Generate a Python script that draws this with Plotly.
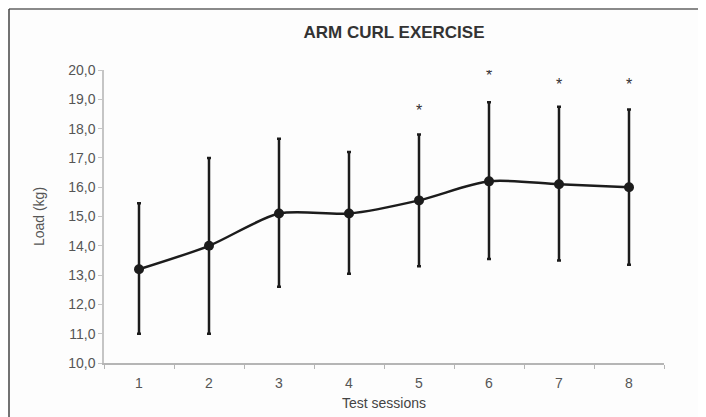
import plotly.graph_objects as go

sessions = ["1", "2", "3", "4", "5", "6", "7", "8"]
mean_load = [13.2, 14.0, 15.1, 15.1, 15.55, 16.2, 16.1, 16.0]
err_plus = [2.25, 3.0, 2.55, 2.1, 2.25, 2.7, 2.65, 2.65]
err_minus = [2.2, 3.0, 2.5, 2.05, 2.25, 2.65, 2.6, 2.65]
star_sessions = ["5", "6", "7", "8"]
star_y = [18.55, 19.75, 19.45, 19.45]
y_ticks = [10, 11, 12, 13, 14, 15, 16, 17, 18, 19, 20]
y_tick_labels = ["10,0", "11,0", "12,0", "13,0", "14,0", "15,0", "16,0", "17,0", "18,0", "19,0", "20,0"]

FONT = "Liberation Sans, Arial, sans-serif"
DARK = "#1c1c1c"

# plot area in figure pixels
L, R, T, B = 96, 656, 62, 355
W, H = R - L, B - T

fig = go.Figure()
fig.add_trace(go.Scatter(
    x=sessions, y=mean_load, mode="lines+markers",
    line=dict(color=DARK, width=2.5, shape="spline", smoothing=0.8),
    marker=dict(color=DARK, size=10),
    error_y=dict(type="data", symmetric=False, array=err_plus, arrayminus=err_minus,
                 color=DARK, thickness=2.5, width=2),
    showlegend=False, hoverinfo="skip",
))
fig.add_trace(go.Scatter(
    x=star_sessions, y=star_y, mode="text", text=["*"] * len(star_sessions),
    textfont=dict(family=FONT, size=16, color="#333"), textposition="middle center",
    showlegend=False, hoverinfo="skip",
))

fig.update_layout(
    width=706, height=417,
    margin=dict(l=L, r=706 - R, t=T, b=417 - B),
    paper_bgcolor="#fdfdfd", plot_bgcolor="#fdfdfd",
    font=dict(family=FONT, color="#555"),
    title=dict(text="<b>ARM CURL EXERCISE</b>", x=386 / 706, xanchor="center",
               y=1 - 24 / 417, yanchor="middle",
               font=dict(family=FONT, size=17, color="#333")),
    xaxis=dict(type="category", range=[-0.5, 7.5], showgrid=False, zeroline=False,
               automargin=False,
               showline=True, linecolor="#b5b5b5", linewidth=1.5,
               ticks="outside", ticklen=4, tickcolor="#b5b5b5", tickson="boundaries",
               ticklabelstandoff=6,
               tickfont=dict(size=14, color="#555"),
               title=dict(text="Test sessions", font=dict(size=14, color="#444"), standoff=9)),
    yaxis=dict(range=[10, 20], tickvals=y_ticks, ticktext=y_tick_labels,
               showgrid=False, zeroline=False, automargin=False,
               showline=True, linecolor="#c5c5c5", linewidth=1.5,
               ticks="outside", ticklen=4, tickcolor="#c5c5c5",
               tickfont=dict(size=14, color="#555"),
               title=dict(text="Load (kg)", font=dict(size=14, color="#555"), standoff=20)),
)

# frame lines (top and left)
fy = 1 + (T - 1) / H
fx = (1 - L) / W
fig.add_shape(type="line", xref="paper", yref="paper",
              x0=fx, x1=(706 - L) / W, y0=fy, y1=fy,
              line=dict(color="#8a8a8a", width=2))
fig.add_shape(type="line", xref="paper", yref="paper",
              x0=fx, x1=fx, y0=fy, y1=-(417 - B) / H,
              line=dict(color="#444", width=1.5))

fig.write_html("out.html")
